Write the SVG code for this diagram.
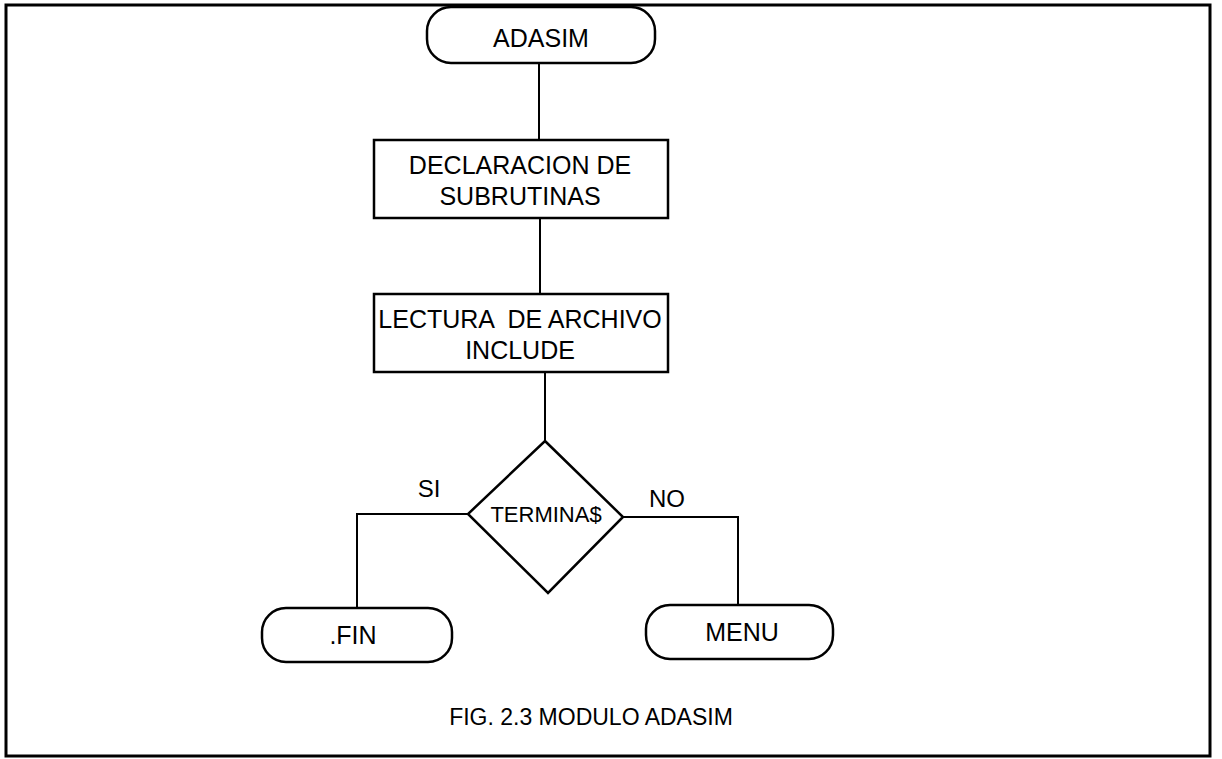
<svg xmlns="http://www.w3.org/2000/svg" width="1222" height="759" viewBox="0 0 1222 759">
<style>
.s{fill:#fff;stroke:#000;stroke-width:2.5}
.c{fill:none;stroke:#000;stroke-width:2}
text{font-family:"Liberation Sans",Arial,sans-serif;fill:#000;text-anchor:middle}
</style>
<rect x="0" y="0" width="1222" height="759" fill="#fff"/>
<rect x="6" y="5" width="1204" height="751" fill="none" stroke="#000" stroke-width="3"/>
<g id="connectors">
<line class="c" x1="539" y1="63" x2="539" y2="140"/>
<line class="c" x1="540" y1="218" x2="540" y2="294"/>
<line class="c" x1="545" y1="372" x2="545" y2="441"/>
<polyline class="c" points="468,514 357,514 357,608"/>
<polyline class="c" points="623,517 738,517 738,605"/>
</g>
<g id="adasim">
<rect class="s" x="427" y="7" width="228" height="56" rx="24"/>
<text x="541" y="47" font-size="25">ADASIM</text>
</g>
<g id="declaracion">
<rect class="s" x="374" y="140" width="294" height="78"/>
<text x="520" y="174" font-size="25">DECLARACION DE</text>
<text x="520" y="205" font-size="25">SUBRUTINAS</text>
</g>
<g id="lectura">
<rect class="s" x="374" y="294" width="294" height="78"/>
<text x="520" y="328" font-size="25" xml:space="preserve">LECTURA  DE ARCHIVO</text>
<text x="520" y="359" font-size="25">INCLUDE</text>
</g>
<g id="termina">
<polygon class="s" points="545,441 623,517 548,593 468,514"/>
<text x="546" y="522" font-size="22">TERMINA$</text>
</g>
<g id="fin">
<rect class="s" x="262" y="608" width="190" height="54" rx="24"/>
<text x="353" y="644" font-size="25">.FIN</text>
</g>
<g id="menu">
<rect class="s" x="646" y="605" width="187" height="54" rx="24"/>
<text x="742" y="641" font-size="25">MENU</text>
</g>
<g id="labels">
<text x="429" y="497" font-size="24">SI</text>
<text x="667" y="507" font-size="24">NO</text>
<text x="591" y="725" font-size="23">FIG. 2.3 MODULO ADASIM</text>
</g>
</svg>
